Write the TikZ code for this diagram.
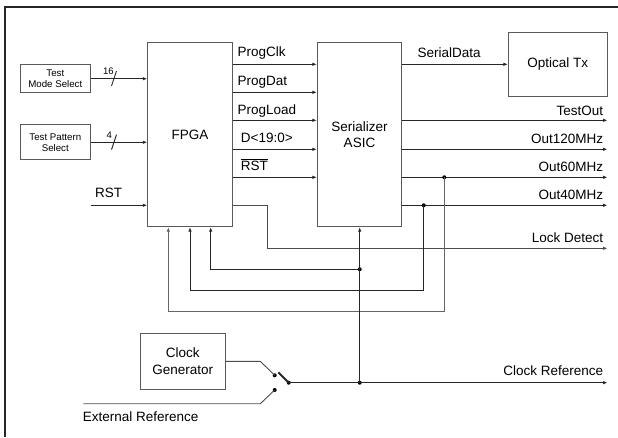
\documentclass[tikz,border=0pt]{standalone}
\usepackage{fontspec}
\setmainfont{Liberation Sans}
\usetikzlibrary{arrows.meta,calc}
\begin{document}
\begin{tikzpicture}[x=1pt,y=-1pt,
 box/.style={draw=black!65, line width=0.8pt, inner sep=0pt, align=center, font=\fontsize{13.5}{16.5}\selectfont},
 smallbox/.style={box, font=\fontsize{9.7}{11}\selectfont},
 wire/.style={line width=0.9pt, draw=black!85},
 sig/.style={wire, -{Latex[length=4.5pt,width=3.5pt]}},
 lbl/.style={inner sep=0pt, anchor=base west, font=\fontsize{13.5}{16}\selectfont},
 rlbl/.style={lbl, anchor=base east},
 slbl/.style={inner sep=0pt, anchor=base west, font=\fontsize{9.5}{11}\selectfont},
 dot/.style={circle, fill=black, inner sep=0pt, minimum size=4pt},
]
\useasboundingbox (0,0) rectangle (618,437);
\draw[line width=1.8pt, black!85] (618,7) -- (5,7) -- (5,437);

% boxes
\node[box, minimum width=84.6, minimum height=184] (fpga) at (190,134.7) {FPGA};
\node[box, minimum width=84.4, minimum height=184] (asic) at (359.5,134.7) {Serializer\\ASIC};
\node[box, minimum width=99, minimum height=63.7] (otx) at (557.8,64.3) {Optical Tx};
\node[smallbox, minimum width=70.7, minimum height=28] (tms) at (55.3,78.7) {Test\\Mode Select};
\node[smallbox, minimum width=70.7, minimum height=35] (tps) at (55.3,142.3) {Test Pattern\\Select};
\node[box, minimum width=85, minimum height=56.6] (cg) at (182.8,361.3) {Clock\\Generator};

% y levels
\coordinate (yPC) at (0,64.3);
\coordinate (yPD) at (0,92.3);
\coordinate (yPL) at (0,120.3);
\coordinate (yD) at (0,149.3);
\coordinate (yR) at (0,177.3);
\coordinate (yRST) at (0,205.3);
\coordinate (xEnd) at (607.5,0);

% inputs to FPGA
\draw[sig] (tms.east) -- (tms.east -| fpga.west);
\draw[sig] (tps.east) -- (tps.east -| fpga.west);
\draw[wire] (111.5,86) -- (116.5,71);
\draw[wire] (111.5,149.6) -- (116.5,134.6);
\node[slbl] (l16) at (103,74) {16};
\node[slbl] (l4) at (106.5,138) {4};
\coordinate (rstin) at (90.7,205.3);
\draw[sig] (rstin) -- (rstin -| fpga.west);
\node[lbl] (lrst) at (95,197.3) {RST};

% FPGA to ASIC
\draw[sig] (fpga.east |- yPC) -- (asic.west |- yPC);
\draw[sig] (fpga.east |- yPD) -- (asic.west |- yPD);
\draw[sig] (fpga.east |- yPL) -- (asic.west |- yPL);
\draw[sig] (fpga.east |- yD) -- (asic.west |- yD);
\draw[sig] (fpga.east |- yR) -- (asic.west |- yR);
\node[lbl] (lpc) at (237.3,56.9) {ProgClk};
\node[lbl] (lpd) at (237.3,85.5) {ProgDat};
\node[lbl] (lpl) at (237.3,114) {ProgLoad};
\node[lbl] (ld) at (240.7,142) {D<19:0>};
\node[lbl] (lrb) at (240.7,170) {$\overline{\hbox{RST}}$};

% ASIC outputs
\draw[sig] (asic.east |- yPC) -- (otx.west);
\node[lbl] (lsd) at (417.3,57.3) {SerialData};
\draw[sig] (asic.east |- yPL) -- (xEnd |- yPL);
\draw[sig] (asic.east |- yD) -- (xEnd |- yD);
\draw[sig] (asic.east |- yR) -- (xEnd |- yR);
\draw[sig] (asic.east |- yRST) -- (xEnd |- yRST);
\node[rlbl] (lto) at (603.3,115) {TestOut};
\node[rlbl] (l120) at (603.3,143.8) {Out120MHz};
\node[rlbl] (l60) at (603.3,171.8) {Out60MHz};
\node[rlbl] (l40) at (603.3,199.8) {Out40MHz};

% lock detect
\coordinate (ld1) at (267.3,205.3);
\coordinate (ld2) at (607.5,248.3);
\draw[sig, draw=black!70] (fpga.east |- ld1) -- (ld1) |- (ld2);
\node[rlbl] (lld) at (603.3,242.6) {Lock Detect};

% feedback
\node[dot] (j60) at (444.3,177.3) {};
\node[dot] (j40) at (423.7,205.3) {};
\node[dot] (jclk) at (359.7,269.3) {};
\coordinate (fb1) at (168.3,311.7);
\coordinate (fb2) at (190,290.7);
\coordinate (fb3) at (210.7,269.3);
\draw[sig, draw=black!60] (j60.center) |- (fb1) -- (fb1 |- fpga.south);
\draw[sig] (j40.center) |- (fb2) -- (fb2 |- fpga.south);
\draw[sig] (jclk.center) -- (fb3) -- (fb3 |- fpga.south);

% clock
\node[dot] (piv) at (288.7,382.7) {};
\node[dot] (jref) at (359.7,382.7) {};
\node[dot] (sa) at (274.7,375.3) {};
\node[dot] (sb) at (274.7,390) {};
\draw[sig] (piv.center) -- (xEnd |- piv);
\node[rlbl] (lcr) at (603.3,375) {Clock Reference};
\draw[sig] (jref.center) -- (jref.center |- asic.south);
\coordinate (cg1) at (260.3,361.3);
\draw[wire, draw=black!70] (cg.east) -- (cg1) -- (sa.center);
\coordinate (ext0) at (83.3,403.7);
\coordinate (ext1) at (260.3,403.7);
\draw[wire, draw=black!70] (ext0) -- (ext1) -- (sb.center);
\coordinate (arm) at (278.3,372.3);
\draw[line width=1.8pt, black!85] (piv.center) -- (arm);
\node[lbl] (lext) at (82.7,421.7) {External Reference};
\end{tikzpicture}
\end{document}
